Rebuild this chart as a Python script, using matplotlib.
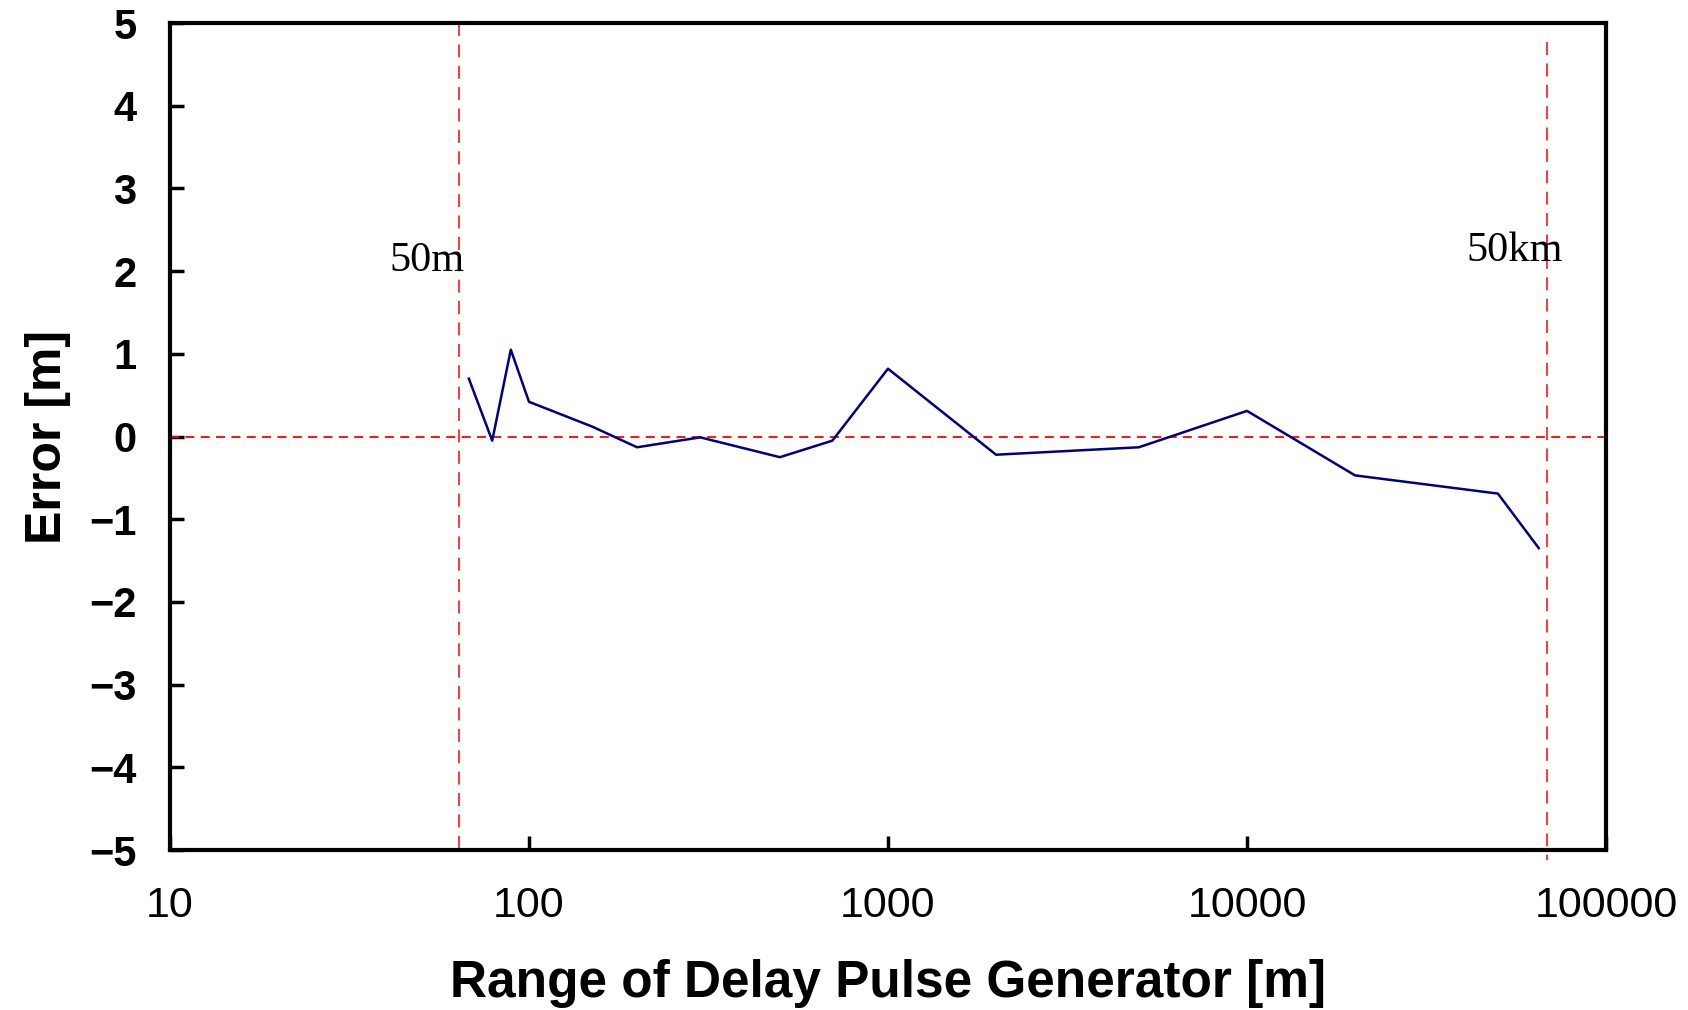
import matplotlib
matplotlib.use("Agg")
import matplotlib.pyplot as plt

# distance setting of the delay pulse generator [m] and measured error [m]
ranges = [68, 79, 89, 100, 150, 200, 300, 500, 700, 1000,
          2000, 5000, 10000, 20000, 50000, 65000]
errors = [0.70, -0.05, 1.05, 0.42, 0.12, -0.13, -0.01, -0.25, -0.05, 0.82,
          -0.22, -0.13, 0.31, -0.47, -0.69, -1.35]

limit_lines = [64, 68500]
limit_labels = ["50m", "50km"]
label_pos = [(52, 2.13), (55800, 2.25)]

xticks = [10, 100, 1000, 10000, 100000]
yticks = list(range(-5, 6))

fig = plt.figure(figsize=(16.88, 10.10), dpi=100)
ax = fig.add_axes([0.1007, 0.1584, 0.8507, 0.8188])

ax.plot(ranges, errors, color="#000080", lw=1.8, zorder=3)

ax.axhline(0, color="red", lw=1.3, dashes=(5, 3.5), zorder=2)
ax.plot([limit_lines[0]] * 2, [5, -5.03], color="red", lw=1.1,
        dashes=(8.5, 5.5), clip_on=False)
ax.plot([limit_lines[1]] * 2, [4.77, -5.12], color="red", lw=1.1,
        dashes=(8.5, 5.5), clip_on=False)

for txt, (x, y) in zip(limit_labels, label_pos):
    ax.text(x, y, txt, ha="center", va="center", fontsize=30.5,
            family=["Liberation Serif", "DejaVu Serif"])

ax.set_xscale("log")
ax.set_xlim(10, 100000)
ax.set_ylim(-5, 5)
ax.set_xticks(xticks)
ax.set_xticklabels([str(t) for t in xticks])
ax.minorticks_off()
ax.set_yticks(yticks)
ax.set_yticklabels([f"\u2212{-t}" if t < 0 else str(t) for t in yticks])

for s in ax.spines.values():
    s.set_linewidth(3)

ax.tick_params(axis="both", direction="in", length=10, width=2.5,
               top=False, right=False)
ax.tick_params(axis="x", pad=26)
ax.tick_params(axis="y", pad=24)

for lab in ax.get_xticklabels():
    lab.set_fontfamily(["Liberation Sans", "DejaVu Sans"])
    lab.set_fontsize(31)
for lab in ax.get_yticklabels():
    lab.set_fontfamily(["Liberation Sans", "DejaVu Sans"])
    lab.set_fontsize(30)
    lab.set_fontweight("bold")

ax.set_xlabel("Range of Delay Pulse Generator [m]", fontsize=37,
              fontweight="bold", family=["Liberation Sans", "DejaVu Sans"],
              labelpad=24)
ax.set_ylabel("Error [m]", fontsize=36, fontweight="bold",
              family=["Liberation Sans", "DejaVu Sans"], labelpad=13)

fig.savefig("out.png", dpi=100)
